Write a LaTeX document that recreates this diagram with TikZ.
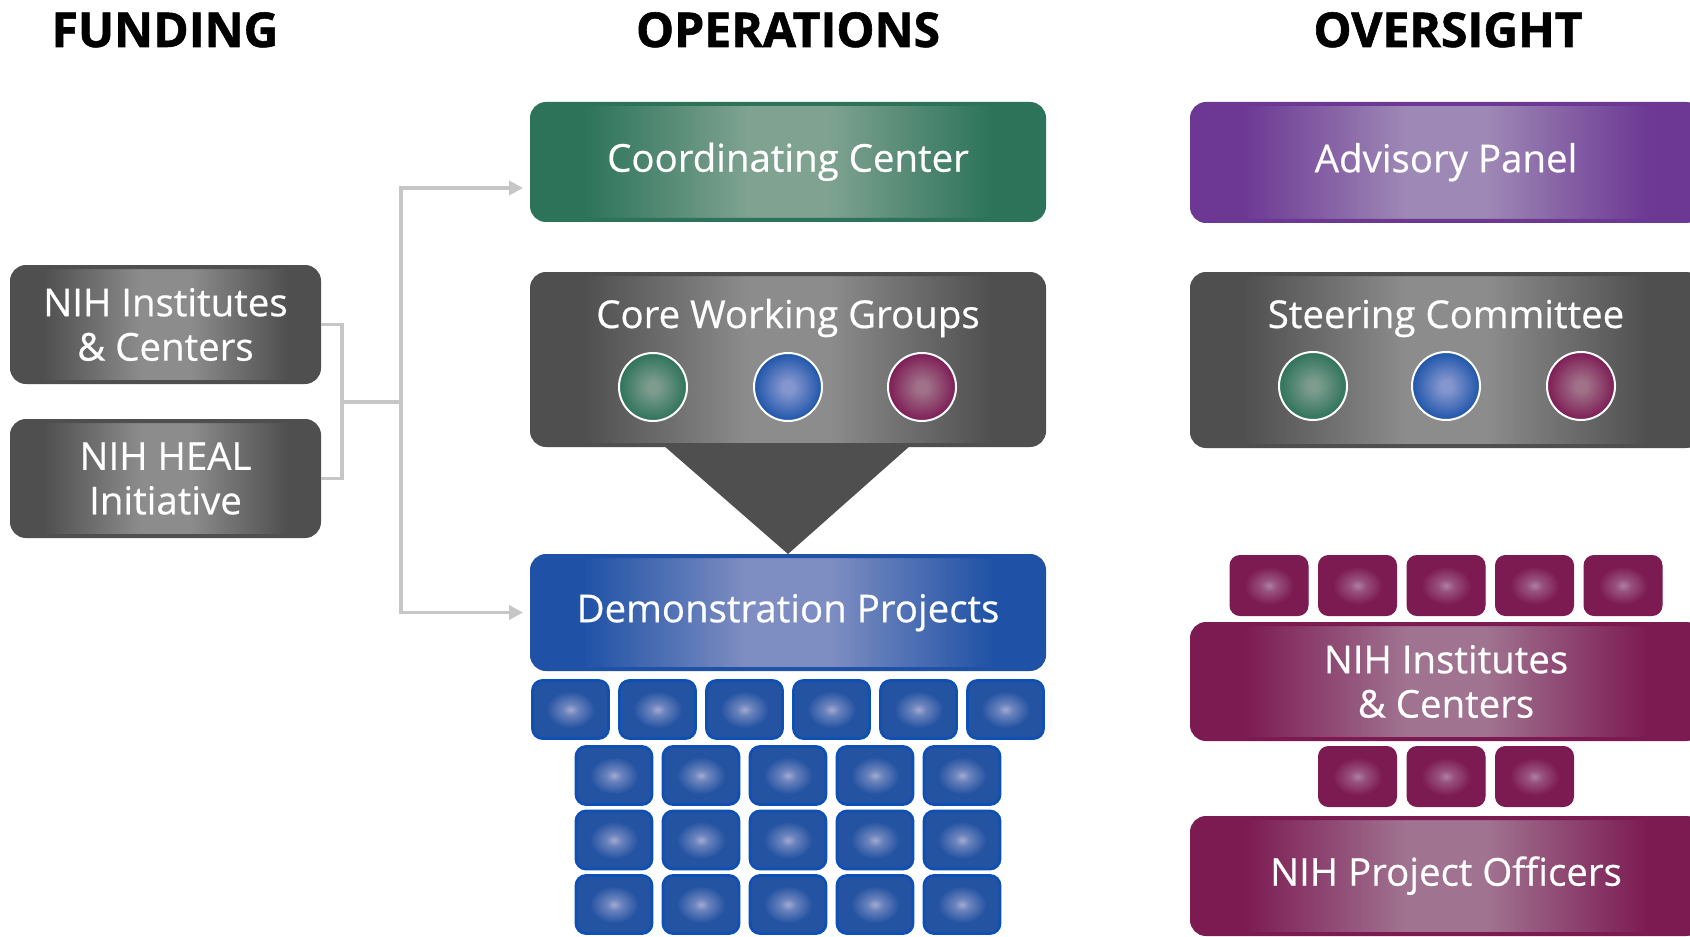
\documentclass[tikz,border=0pt]{standalone}
\usepackage{fontspec}
\setmainfont{Open Sans}
\newfontfamily\titlefont{Open Sans}[BoldFeatures={FakeBold=1.2}]
\newfontfamily\boxfont{Open Sans}[FakeBold=0.5]
\usetikzlibrary{arrows.meta,calc}
\definecolor{glowin}{HTML}{8E8E8E}
\definecolor{glowout}{HTML}{4F4F4F}
\definecolor{gOut}{HTML}{4F4F4F}\definecolor{gIn}{HTML}{8C8C8C}
\definecolor{grnOut}{HTML}{2C735A}\definecolor{grnIn}{HTML}{7FA291}
\definecolor{purOut}{HTML}{6C3894}\definecolor{purIn}{HTML}{9E88B5}
\definecolor{bluOut}{HTML}{1F52A6}\definecolor{bluIn}{HTML}{7F8EC2}
\definecolor{magOut}{HTML}{7C1A52}\definecolor{magIn}{HTML}{A07390}
\definecolor{bOut}{HTML}{2453A2}\definecolor{bIn}{HTML}{A3AAD2}\definecolor{bEdge}{HTML}{0E50B4}
\definecolor{mOut}{HTML}{7C1A52}\definecolor{mIn}{HTML}{AE7FA3}
\definecolor{cgOut}{HTML}{2E735A}\definecolor{cgIn}{HTML}{7C9C8E}
\definecolor{cbOut}{HTML}{1E55AA}\definecolor{cbIn}{HTML}{8596CE}
\definecolor{cmOut}{HTML}{7D1C55}\definecolor{cmIn}{HTML}{A07289}
\definecolor{connC}{HTML}{C6C6C6}
% path bounding box maps onto 25bp..75bp of the shading
\pgfdeclarehorizontalshading[glowin,glowout]{hglow}{100bp}{color(0bp)=(glowout); color(30bp)=(glowout); color(39bp)=(glowin!55!glowout); color(46bp)=(glowin); color(54bp)=(glowin); color(61bp)=(glowin!55!glowout); color(70bp)=(glowout); color(100bp)=(glowout)}
\pgfdeclareradialshading[glowin,glowout]{glow}{\pgfpoint{0bp}{0bp}}{color(0bp)=(glowin); color(4bp)=(glowin); color(25bp)=(glowout); color(100bp)=(glowout)}
\pgfdeclareradialshading[glowin,glowout]{spot}{\pgfpoint{0bp}{0bp}}{color(0bp)=(glowin); color(5bp)=(glowin!55!glowout); color(16bp)=(glowout); color(100bp)=(glowout)}
\tikzset{
  glowc/.code 2 args={\colorlet{glowin}{#1}\colorlet{glowout}{#2}},
  boxtext/.style={text=white, font=\fontsize{19.2pt}{22.2pt}\boxfont},
  bigbox/.style={rounded corners=7pt, shading=hglow, draw=glowout, line width=2pt,
    boxtext, align=center, inner sep=0pt},
  oneline/.style={text height=14pt, text depth=4.3pt},
  bcell/.style={glowc={bIn}{bOut}, rounded corners=5pt, shading=spot, draw=bEdge,
    line width=1.4pt, minimum width=38pt, minimum height=29pt, inner sep=0pt},
  mcell/.style={glowc={mIn}{mOut}, rounded corners=5pt, shading=spot, draw=mOut,
    line width=0.5pt, minimum width=39pt, minimum height=30pt, inner sep=0pt},
  dot/.style={circle, shading=glow, draw=white, line width=1pt, minimum size=34pt, inner sep=0pt},
  conn/.style={draw=connC, line width=1.75pt, line join=miter},
  arr/.style={-{Triangle[length=7pt,width=7pt]}},
  title/.style={font=\fontsize{24pt}{28pt}\titlefont\bfseries, text=black, anchor=base, inner sep=0pt}
}
\begin{document}
\begin{tikzpicture}[x=0.5pt,y=-0.5pt]
\clip (0,0) rectangle (1690,936);
\fill[white] (0,0) rectangle (1690,936);
% titles
\node[title] (tf) at (165,47) {FUNDING};
\node[title] (to) at (788,47) {OPERATIONS};
\node[title] (tv) at (1448,47) {OVERSIGHT};
% funding
\node[bigbox, glowc={gIn}{gOut}, minimum width=153.5pt, minimum height=57.5pt] (fund1) at (165.5,324.5) {NIH Institutes\\\& Centers};
\node[bigbox, glowc={gIn}{gOut}, minimum width=153.5pt, minimum height=57.5pt] (fund2) at (165.5,478.5) {NIH HEAL\\Initiative};
% operations
\node[bigbox, oneline, glowc={grnIn}{grnOut}, minimum width=256pt, minimum height=58pt] (coord) at (788,162) {Coordinating Center};
\node[bigbox, oneline, glowc={bluIn}{bluOut}, minimum width=256pt, minimum height=56.5pt] (demo) at (788,612.5) {Demonstration Projects};
\node[bigbox, glowc={gIn}{gOut}, minimum width=256pt, minimum height=85.5pt] (cwg) at (788,359.5) {};
\fill[gOut] ($(cwg.south)+(-125,-2)$) -- ($(cwg.south)+(123,-2)$) -- (demo.north) -- cycle;
\node[boxtext, anchor=base, inner sep=0pt] (cwgt) at (788,328) {Core Working Groups};
\node[dot, glowc={cgIn}{cgOut}] (c1) at (653,387) {};
\node[dot, glowc={cbIn}{cbOut}] (c2) at (788,387) {};
\node[dot, glowc={cmIn}{cmOut}] (c3) at (922,387) {};
\foreach \x [count=\i] in {570.5,657.5,744.5,831.5,918.5,1005.5}
  \node[bcell] (ba\i) at (\x,709.5) {};
\foreach \y [count=\j] in {775.5,840,904.5}
  \foreach \x [count=\i] in {614,701,788,875,962}
    \node[bcell] (bb\j\i) at (\x,\y) {};
% oversight
\node[bigbox, oneline, glowc={purIn}{purOut}, minimum width=254pt, minimum height=58.5pt] (adv) at (1446,162.5) {Advisory Panel};
\node[bigbox, glowc={gIn}{gOut}, minimum width=254pt, minimum height=86pt] (steer) at (1446,360) {};
\node[boxtext, anchor=base, inner sep=0pt] (steert) at (1446,328) {Steering Committee};
\node[dot, glowc={cgIn}{cgOut}] (s1) at (1313,386) {};
\node[dot, glowc={cbIn}{cbOut}] (s2) at (1446,386) {};
\node[dot, glowc={cmIn}{cmOut}] (s3) at (1581,386) {};
\foreach \x [count=\i] in {1269,1357.5,1446,1534.5,1623}
  \node[mcell] (ma\i) at (\x,585.5) {};
\node[bigbox, glowc={magIn}{magOut}, minimum width=254pt, minimum height=57.5pt] (nic) at (1446,681.5) {NIH Institutes\\\& Centers};
\foreach \x [count=\i] in {1357.5,1446,1534.5}
  \node[mcell] (mb\i) at (\x,776.5) {};
\node[bigbox, oneline, glowc={magIn}{magOut}, minimum width=254pt, minimum height=58pt] (npo) at (1446,876) {NIH Project Officers};
% connectors
\coordinate (brk) at (342,402);
\coordinate (trk) at (401,402);
\draw[conn] (fund1.east) -| (brk) |- (fund2.east);
\draw[conn] (brk) -- (trk);
\draw[conn, arr] (trk) |- ($(coord.west)+(-7,26)$);
\draw[conn, arr] (trk) |- ($(demo.west)+(-7,0)$);
\end{tikzpicture}
\end{document}
